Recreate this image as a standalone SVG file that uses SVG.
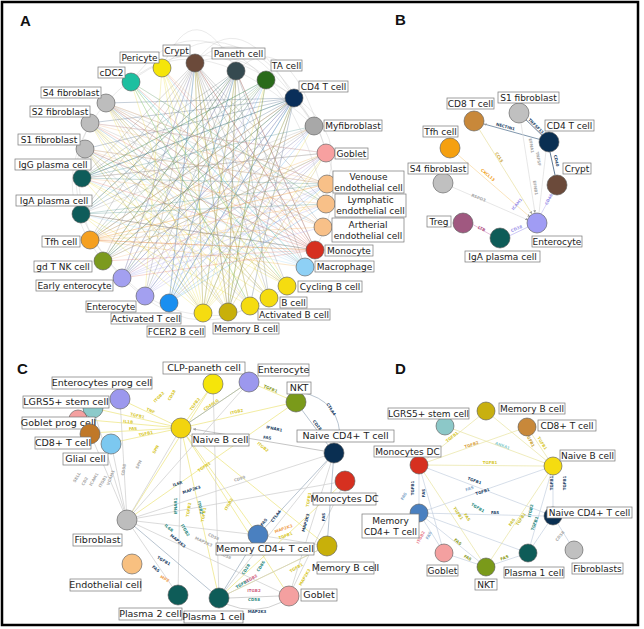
<svg xmlns="http://www.w3.org/2000/svg" width="644" height="629" viewBox="0 0 644 629">
<defs>
<style>
.n circle{stroke:#555;stroke-width:.6}
.lb{fill:#fff;stroke:#777;stroke-width:.7}
.t{font-family:"DejaVu Sans",Verdana,sans-serif;font-size:9px;fill:#222;text-anchor:middle}
.tc{font-family:"DejaVu Sans",Verdana,sans-serif;font-size:9.5px;fill:#222;text-anchor:middle}
.pl{font-family:"Liberation Sans",Arial,sans-serif;font-size:15px;font-weight:bold;fill:#111}
.ea{fill:none;stroke-width:.5;opacity:.5}
.eb{fill:none;stroke-width:.7}
.g{font-family:"DejaVu Sans",sans-serif;font-size:4px;font-weight:bold;text-anchor:middle}
</style>
<marker id="ar" viewBox="0 0 6 6" refX="6" refY="3" markerWidth="4" markerHeight="4" orient="auto"><path d="M0 0L6 3L0 6z" fill="#999"/></marker>
</defs>
<rect width="644" height="629" fill="#fff"/>
<rect x="2" y="2" width="636" height="623" fill="none" stroke="#000" stroke-width="2.5"/>
<text class="pl" x="20" y="26">A</text>
<text class="pl" x="395" y="25">B</text>
<text class="pl" x="17" y="374">C</text>
<text class="pl" x="395" y="374">D</text>

<g id="connectors">
<!-- Panel A hairball -->
<g id="edges-A">
<path class="ea" stroke="#666" d="M195 63L122 278M195 63L145 296M195 63L169 303M195 63L203 313M195 63L228 312M195 63L250 306M195 63L269 298M195 63L287 286M195 63L305 267M195 63L315 250M195 63L323 227M195 63L90 240M195 63L103 261M195 63L81 214M195 63L82 178M195 63L326 204"/>
<path class="ea" stroke="#1c3f66" d="M294 98L106 103M294 98L90 123M294 98L85 149M294 98L82 178M294 98L81 214M294 98L90 240M294 98L103 261M294 98L122 278M294 98L145 296M294 98L169 303M294 98L203 313M294 98L228 312M294 98L250 306"/>
<path class="ea" stroke="#4a5a60" d="M236 71L81 214M236 71L90 240M236 71L103 261M236 71L122 278M236 71L145 296M236 71L169 303M236 71L203 313M236 71L228 312M236 71L269 298M236 71L305 267M236 71L315 250M236 71L82 178"/>
<path class="ea" stroke="#e8d620" d="M203 313L195 63M203 313L162 68M203 313L131 82M203 313L106 103M203 313L90 123M203 313L85 149M203 313L82 178M203 313L81 214M203 313L314 126M203 313L294 98M203 313L266 80M203 313L236 71M203 313L326 153M203 313L327 184M287 286L106 103M287 286L85 149M287 286L82 178M287 286L131 82M287 286L162 68M250 306L90 123M250 306L81 214M250 306L195 63M269 298L162 68M269 298L90 123M269 298L82 178M269 298L106 103M250 306L131 82M287 286L90 123M162 68L228 312M162 68L145 296"/>
<path class="ea" stroke="#b8a020" d="M228 312L195 63M228 312L294 98M228 312L266 80M228 312L236 71M228 312L106 103M228 312L85 149M228 312L326 153"/>
<path class="ea" stroke="#e06050" d="M315 250L106 103M315 250L90 123M315 250L85 149M315 250L82 178M315 250L81 214M315 250L90 240M315 250L103 261M315 250L122 278M315 250L195 63M315 250L162 68M315 250L131 82M315 250L236 71"/>
<path class="ea" stroke="#9a96e8" d="M122 278L195 63M122 278L294 98M122 278L266 80M122 278L236 71M122 278L314 126M122 278L326 153M122 278L327 184M122 278L326 204M122 278L323 227M145 296L294 98M145 296L326 153M145 296L266 80M145 296L314 126M145 296L327 184"/>
<path class="ea" stroke="#3a9ae8" d="M169 303L195 63M169 303L236 71M169 303L266 80M169 303L294 98M169 303L314 126M169 303L326 153M169 303L327 184M169 303L326 204"/>
<path class="ea" stroke="#f0a030" d="M90 240L314 126M90 240L326 153M90 240L327 184M90 240L326 204M90 240L323 227M90 240L315 250M90 240L305 267M90 240L294 98"/>
<path class="ea" stroke="#999" d="M106 103L315 250M106 103L323 227M106 103L326 204M106 103L327 184M106 103L305 267M106 103L287 286M106 103L269 298M106 103L250 306M90 123L326 153M90 123L323 227M90 123L305 267M90 123L269 298M90 123L228 312M85 149L327 184M85 149L315 250M85 149L287 286M85 149L250 306M85 149L203 313M314 126L103 261M314 126L81 214M314 126L122 278M314 126L90 240"/>
<path class="ea" stroke="#2a7a78" d="M82 178L326 153M82 178L314 126M82 178L294 98M82 178L266 80M82 178L327 184M81 214L326 204M81 214L327 184M81 214L266 80M81 214L236 71M81 214L315 250"/>
<path class="ea" stroke="#8ecff2" d="M305 267L106 103M305 267L85 149M305 267L131 82M305 267L162 68M305 267L81 214M305 267L90 123M305 267L82 178"/>
<path class="ea" stroke="#f2b070" d="M327 184L106 103M327 184L90 123M327 184L85 149M327 184L90 240M326 204L103 261M326 204L82 178M326 204L131 82M323 227L85 149M323 227L162 68M323 227L106 103"/>
<path class="ea" stroke="#4a8a3a" d="M266 80L90 240M266 80L103 261M266 80L122 278M266 80L82 178M266 80L228 312M103 261L326 153M103 261L294 98M103 261L236 71"/>
<path class="ea" stroke="#f0a0a0" d="M326 153L90 123M326 153L82 178M326 153L122 278M326 153L169 303M326 153L103 261"/>
<path class="ea" stroke="#30b8a0" d="M131 82L287 286M131 82L305 267M131 82L326 204M131 82L250 306"/>
<path class="ea" stroke="#aaa" d="M162 68Q195 -10 236 71M131 82Q190 0 266 80M106 103Q190 10 294 98M195 63Q240 0 294 98M195 63Q250 10 314 126M162 68Q230 -5 314 126M236 71Q290 20 326 153M106 103Q40 180 103 261M90 123Q50 200 122 278M122 278Q190 345 250 306M145 296Q220 340 287 286M294 98Q360 170 315 250M266 80Q350 120 327 184M85 149Q60 230 145 296M131 82Q200 20 314 126M195 63Q280 30 326 204"/>
</g>
<!-- Panel B -->
<g id="edges-B">
<path class="eb" stroke="#1c3f66" d="M519 113L549 142"/>
<path class="eb" stroke="#4a6a8a" d="M549 142L484 124" marker-end="url(#ar)"/>
<path class="eb" stroke="#1c3f66" d="M550 152L555 175"/>
<path class="eb" stroke="#e8e0a0" d="M474 121L532 214" marker-end="url(#ar)"/>
<path class="eb" stroke="#f8d8a0" d="M450 148L530 217" marker-end="url(#ar)"/>
<path class="eb" stroke="#ddd" d="M443 183L528 220" marker-end="url(#ar)"/>
<path class="eb" stroke="#ddd" d="M521 123L535 213" marker-end="url(#ar)"/>
<path class="eb" stroke="#ddd" d="M546 151L539 213"/>
<path class="eb" stroke="#c8c4f4" d="M557 185L541 214"/>
<path class="eb" stroke="#b8b0f0" d="M509 236L528 227"/>
<path class="eb" stroke="#d8a0c8" d="M472 224L491 235"/>
<text class="g" fill="#1c3f66" transform="translate(535 127) rotate(45)">TNFSF13</text>
<text class="g" fill="#1c3f66" transform="translate(505 128) rotate(15)">NECTIN1</text>
<text class="g" fill="#1c3f66" transform="translate(555 161) rotate(78)">CD40</text>
<text class="g" fill="#c8a030" transform="translate(498 158) rotate(58)">CCL5</text>
<text class="g" fill="#f0a020" transform="translate(487 176) rotate(40)">CXCL13</text>
<text class="g" fill="#aaa" transform="translate(478 199) rotate(22)">RSPO3</text>
<text class="g" fill="#aaa" transform="translate(530 146) rotate(80)">EFNA1</text>
<text class="g" fill="#aaa" transform="translate(537 159) rotate(80)">TNFSF</text>
<text class="g" fill="#aaa" transform="translate(534 188) rotate(82)">EFNB1</text>
<text class="g" fill="#9a90e8" transform="translate(550 200) rotate(-62)">CD46</text>
<text class="g" fill="#9a90e8" transform="translate(518 205) rotate(-50)">ICAM1</text>
<text class="g" fill="#9a90e8" transform="translate(517 230) rotate(-22)">CD38</text>
<text class="g" fill="#b05080" transform="translate(481 230) rotate(28)">LTB</text>
</g>
<!-- Panel C -->
<g id="edges-C">
<path class="eb" stroke="#ece47a" stroke-width=".6" d="M181 428L120 399M181 428L93 408M181 428L78 419M181 428L90 433M181 428L111 443M181 428L213 384M181 428L249 382M181 428L296 402M181 428L219 598M181 428L289 596M181 428L258 535M181 428L327 546M213 384L127 520M249 382L296 402M296 402L127 520M219 598L327 546M345 481L219 598"/>
<path class="eb" stroke="#ccc" stroke-width=".6" d="M334 453L127 520M249 382L127 520M213 384L219 598M127 520L178 595M127 520L289 596M127 520L258 535M334 453L219 598M334 453L289 596M345 481L127 520M327 546L219 598M181 428L127 520M111 443L127 520M93 408L127 520M90 433L127 520M120 399L127 520M181 428L178 595M345 481L289 596M258 535L327 546"/>
<path class="eb" stroke="#aaa" stroke-width=".6" d="M324 451L193 429" marker-end="url(#ar)"/>
<path class="eb" stroke="#9ab" stroke-width=".6" d="M296 402L334 453M300 392Q342 400 340 443M334 453L258 535M334 453L327 546M127 520L219 598M219 598L258 535M249 382L181 428"/>
<path class="eb" stroke="#bbb" stroke-width=".6" d="M229 598L279 596M226 604Q255 616 282 602"/>
<text class="g" fill="#d8c830" transform="translate(150 412) rotate(25)">TNF</text>
<text class="g" fill="#d8c830" transform="translate(137 417) rotate(13)">TGFB1</text>
<text class="g" fill="#d8c830" transform="translate(128 423) rotate(5)">IL1B</text>
<text class="g" fill="#d8c830" transform="translate(133 430) rotate(-3)">FAS</text>
<text class="g" fill="#d8c830" transform="translate(146 435) rotate(-12)">TGFB1</text>
<text class="g" fill="#d8c830" transform="translate(196 405) rotate(-54)">TGFB2</text>
<text class="g" fill="#d8c830" transform="translate(212 406) rotate(-34)">CD40LG</text>
<text class="g" fill="#d8c830" transform="translate(237 413) rotate(-13)">ITGB2</text>
<text class="g" fill="#d8c830" transform="translate(160 398) rotate(-45)">ITGB2</text>
<text class="g" fill="#d8c830" transform="translate(173 396) rotate(-60)">CD58</text>
<text class="g" fill="#d8c830" transform="translate(157 450) rotate(-60)">SPN</text>
<text class="g" fill="#8a9a20" transform="translate(270 390) rotate(23)">TGFB1</text>
<text class="g" fill="#1c3f66" transform="translate(316 426) rotate(53)">CD28</text>
<text class="g" fill="#1c3f66" transform="translate(330 410) rotate(58)">CTLA4</text>
<text class="g" fill="#1c3f66" transform="translate(274 430) rotate(12)">IFNAR1</text>
<text class="g" fill="#1c3f66" transform="translate(267 439) rotate(8)">FAS</text>
<text class="g" fill="#d8c830" transform="translate(262 448) rotate(40)">ITGB2</text>
<text class="g" fill="#1c3f66" transform="translate(178 485) rotate(-18)">IL6R</text>
<text class="g" fill="#1c3f66" transform="translate(192 491) rotate(-18)">MAP2K3</text>
<text class="g" fill="#d8c830" transform="translate(205 468) rotate(-35)">TGFB1</text>
<text class="g" fill="#d8c830" transform="translate(190 510) rotate(-80)">TGFB2</text>
<text class="g" fill="#d8c830" transform="translate(205 515) rotate(-80)">TGFB1</text>
<text class="g" fill="#d8c830" transform="translate(230 505) rotate(-60)">ITGB2</text>
<text class="g" fill="#2a8a80" transform="translate(177 506) rotate(-90)">IFNAR1</text>
<text class="g" fill="#2a8a80" transform="translate(199 508) rotate(77)">ITGB2</text>
<text class="g" fill="#2a8a80" transform="translate(168 529) rotate(40)">IL6R</text>
<text class="g" fill="#2a8a80" transform="translate(184 531) rotate(60)">ITGB2</text>
<text class="g" fill="#1c3f66" transform="translate(177 542) rotate(40)">MAP2K3</text>
<text class="g" fill="#1c3f66" transform="translate(163 562) rotate(30)">TGFB1</text>
<text class="g" fill="#1c3f66" transform="translate(155 570) rotate(40)">FAS</text>
<text class="g" fill="#f0a050" transform="translate(164 580) rotate(30)">MPZ</text>
<text class="g" fill="#aaa" transform="translate(213 538) rotate(25)">CD58</text>
<text class="g" fill="#aaa" transform="translate(203 543) rotate(25)">MAP2K3</text>
<text class="g" fill="#aaa" transform="translate(225 557) rotate(25)">CD58</text>
<text class="g" fill="#d06080" transform="translate(254 592)">ITGB2</text>
<text class="g" fill="#2a8a80" transform="translate(254 601)">CD58</text>
<text class="g" fill="#1c3f66" transform="translate(257 613)">MAP2K3</text>
<text class="g" fill="#2a8a80" transform="translate(262 567) rotate(-58)">CD86</text>
<text class="g" fill="#2a8a80" transform="translate(247 570) rotate(-58)">CD28</text>
<text class="g" fill="#2a8a80" transform="translate(243 585) rotate(-30)">TGFB1</text>
<text class="g" fill="#d06080" transform="translate(252 580) rotate(-30)">ITGB2</text>
<text class="g" fill="#1c3f66" transform="translate(265 523) rotate(-52)">FAS</text>
<text class="g" fill="#1c3f66" transform="translate(277 517) rotate(-52)">CTLA4</text>
<text class="g" fill="#f0a050" transform="translate(284 530) rotate(-20)">MAP2K3</text>
<text class="g" fill="#d8c830" transform="translate(286 537) rotate(-20)">TGFB1</text>
<text class="g" fill="#1c3f66" transform="translate(325 517) rotate(-90)">FAS</text>
<text class="g" fill="#1c3f66" transform="translate(307 523) rotate(-75)">MAP2K3</text>
<text class="g" fill="#d8c830" transform="translate(297 569) rotate(-30)">TGFB1</text>
<text class="g" fill="#d8c830" transform="translate(306 578) rotate(-60)">MAP2K3</text>
<text class="g" fill="#d8c830" transform="translate(310 500) rotate(-80)">TGFB1</text>
<text class="g" fill="#aaa" transform="translate(78 478) rotate(-60)">SELL</text>
<text class="g" fill="#aaa" transform="translate(86 482) rotate(-60)">CD2</text>
<text class="g" fill="#aaa" transform="translate(95 480) rotate(-60)">ICAM1</text>
<text class="g" fill="#aaa" transform="translate(104 482) rotate(-60)">ITGB1</text>
<text class="g" fill="#aaa" transform="translate(112 478) rotate(-70)">VCAM1</text>
<text class="g" fill="#aaa" transform="translate(125 470) rotate(-80)">CD58</text>
<text class="g" fill="#aaa" transform="translate(140 465) rotate(-65)">SPN</text>
<text class="g" fill="#aaa" transform="translate(240 480) rotate(-18)">CD99</text>
</g>
<!-- Panel D -->
<g id="edges-D">
<path class="eb" stroke="#e8e4a0" stroke-width=".6" d="M419 465L544 466M486 411L419 465M527 427L419 465M527 427L553 466M486 411L553 466M445 426L553 466M419 465L486 567M553 466L486 567"/>
<path class="eb" stroke="#c4d0e0" stroke-width=".6" d="M419 465L419 513M419 465L553 516M419 513L553 466M419 513L544 516M553 466L553 516M419 513L444 553M419 513L486 567M444 553L486 567M486 567L528 553M528 553L553 516M553 466L528 553M574 550L553 516M419 465L444 553M419 513L528 553"/>
<text class="g" fill="#d8c830" transform="translate(453 438) rotate(-39)">TGFB1</text>
<text class="g" fill="#d8a040" transform="translate(472 446) rotate(-19)">TGFB2</text>
<text class="g" fill="#8cc" transform="translate(502 447) rotate(20)">ANXA1</text>
<text class="g" fill="#c8a030" transform="translate(529 441) rotate(62)">TGFB1</text>
<text class="g" fill="#d8c830" transform="translate(541 444) rotate(58)">TGFB1</text>
<text class="g" fill="#d8c830" transform="translate(490 464)">TGFB1</text>
<text class="g" fill="#1c3f66" transform="translate(474 482) rotate(20)">TGFB1</text>
<text class="g" fill="#1c3f66" transform="translate(414 488) rotate(-90)">TGFB1</text>
<text class="g" fill="#1c3f66" transform="translate(425 493) rotate(-90)">FAS</text>
<text class="g" fill="#8ac" transform="translate(405 497) rotate(-60)">FAS</text>
<text class="g" fill="#8ac" transform="translate(470 490) rotate(-19)">FAS</text>
<text class="g" fill="#1c3f66" transform="translate(483 493) rotate(-19)">TGFB1</text>
<text class="g" fill="#2a8a80" transform="translate(477 509) rotate(30)">TGFB1</text>
<text class="g" fill="#1c3f66" transform="translate(495 514)">FAS</text>
<text class="g" fill="#1c3f66" transform="translate(553 483) rotate(-90)">TGFB1</text>
<text class="g" fill="#1c3f66" transform="translate(566 483) rotate(-90)">TGFB1</text>
<text class="g" fill="#2a8a80" transform="translate(536 524) rotate(-70)">TGFB1</text>
<text class="g" fill="#2a8a80" transform="translate(532 511) rotate(-80)">ITGB2</text>
<text class="g" fill="#c8c030" transform="translate(513 523) rotate(-56)">FAS</text>
<text class="g" fill="#c8c030" transform="translate(522 520) rotate(-56)">TGFB1</text>
<text class="g" fill="#e88090" transform="translate(422 538) rotate(-62)">ITGB2</text>
<text class="g" fill="#8ac" transform="translate(430 536) rotate(-62)">FAS</text>
<text class="g" fill="#8a9a20" transform="translate(457 543) rotate(40)">FAS</text>
<text class="g" fill="#c8c030" transform="translate(457 514) rotate(57)">TGFB1</text>
<text class="g" fill="#c8c030" transform="translate(466 518) rotate(57)">FAS</text>
<text class="g" fill="#8a9a20" transform="translate(467 559) rotate(30)">FAS</text>
<text class="g" fill="#8a9a20" transform="translate(505 559) rotate(-20)">FAS</text>
<text class="g" fill="#aaa" transform="translate(561 537) rotate(-50)">CD58</text>
</g>
</g>

<!-- Panel A nodes -->
<g class="n" id="A-crypt"><circle cx="195" cy="63" r="9" fill="#6b4a3a"/><rect class="lb" x="163" y="45" width="27" height="11"/><text class="t" x="176.5" y="53.5">Crypt</text></g>
<g class="n" id="A-pericyte"><circle cx="162" cy="68" r="9" fill="#f5e50a"/><rect class="lb" x="120" y="52" width="39" height="11"/><text class="t" x="139.5" y="60.5">Pericyte</text></g>
<g class="n" id="A-cdc2"><circle cx="131" cy="82" r="9" fill="#1dbfa0"/><rect class="lb" x="98" y="67" width="27" height="11"/><text class="t" x="111.5" y="75.5">cDC2</text></g>
<g class="n" id="A-s4"><circle cx="106" cy="103" r="9" fill="#bdbdbd"/><rect class="lb" x="41" y="87" width="60" height="11"/><text class="t" x="71" y="95.5">S4 fibroblast</text></g>
<g class="n" id="A-s2"><circle cx="90" cy="123" r="9" fill="#bdbdbd"/><rect class="lb" x="30" y="106" width="60" height="11"/><text class="t" x="60" y="114.5">S2 fibroblast</text></g>
<g class="n" id="A-s1"><circle cx="85" cy="149" r="9" fill="#bdbdbd"/><rect class="lb" x="18" y="134" width="62" height="11"/><text class="t" x="49" y="142.5">S1 fibroblast</text></g>
<g class="n" id="A-igg"><circle cx="82" cy="178" r="9" fill="#0e5c5a"/><rect class="lb" x="15" y="159" width="76" height="11"/><text class="t" x="53" y="167.5">IgG plasma cell</text></g>
<g class="n" id="A-iga"><circle cx="81" cy="214" r="9" fill="#0e5c5a"/><rect class="lb" x="16" y="195" width="76" height="11"/><text class="t" x="54" y="203.5">IgA plasma cell</text></g>
<g class="n" id="A-tfh"><circle cx="90" cy="240" r="9" fill="#f5a020"/><rect class="lb" x="42" y="236" width="38" height="11"/><text class="t" x="61" y="244.5">Tfh cell</text></g>
<g class="n" id="A-gdtnk"><circle cx="103" cy="261" r="9" fill="#7c9a1e"/><rect class="lb" x="34" y="261" width="58" height="11"/><text class="t" x="63" y="269.5">gd T NK cell</text></g>
<g class="n" id="A-earlyent"><circle cx="122" cy="278" r="9" fill="#a3a0f0"/><rect class="lb" x="36" y="280" width="77" height="11"/><text class="t" x="74.5" y="288.5">Early enterocyte</text></g>
<g class="n" id="A-enterocyte"><circle cx="145" cy="296" r="9" fill="#a3a0f0"/><rect class="lb" x="86" y="301" width="50" height="11"/><text class="t" x="111" y="309.5">Enterocyte</text></g>
<g class="n" id="A-actt"><circle cx="169" cy="303" r="9" fill="#1a8ff0"/><rect class="lb" x="111" y="313" width="70" height="11"/><text class="t" x="146" y="321.5">Activated T cell</text></g>
<g class="n" id="A-fcer2"><circle cx="203" cy="313" r="9" fill="#f5dc10"/><rect class="lb" x="147" y="326" width="58" height="11"/><text class="t" x="176" y="334.5">FCER2 B cell</text></g>
<g class="n" id="A-memb"><circle cx="228" cy="312" r="9" fill="#c8b00a"/><rect class="lb" x="213" y="323" width="66" height="11"/><text class="t" x="246" y="331.5">Memory B cell</text></g>
<g class="n" id="A-actb"><circle cx="250" cy="306" r="9" fill="#f5dc10"/><rect class="lb" x="258" y="309" width="72" height="11"/><text class="t" x="294" y="317.5">Activated B cell</text></g>
<g class="n" id="A-bcell"><circle cx="269" cy="298" r="9" fill="#f5dc10"/><rect class="lb" x="280" y="297" width="27" height="11"/><text class="t" x="293.5" y="305.5">B cell</text></g>
<g class="n" id="A-cycb"><circle cx="287" cy="286" r="9" fill="#f5dc10"/><rect class="lb" x="298" y="281" width="64" height="11"/><text class="t" x="330" y="289.5">Cycling B cell</text></g>
<g class="n" id="A-macro"><circle cx="305" cy="267" r="9" fill="#8ed0f5"/><rect class="lb" x="315" y="261" width="59" height="11"/><text class="t" x="344.5" y="269.5">Macrophage</text></g>
<g class="n" id="A-mono"><circle cx="315" cy="250" r="9" fill="#d63020"/><rect class="lb" x="325" y="245" width="48" height="11"/><text class="t" x="349" y="253.5">Monocyte</text></g>
<g class="n" id="A-art"><circle cx="323" cy="227" r="9" fill="#f8c088"/><rect class="lb" x="332" y="218" width="72" height="24"/><text class="t" x="368" y="227.5">Artherial</text><text class="t" x="368" y="239">endothelial cell</text></g>
<g class="n" id="A-lym"><circle cx="326" cy="204" r="9" fill="#f8c088"/><rect class="lb" x="335" y="194" width="71" height="23"/><text class="t" x="370.5" y="203">Lymphatic</text><text class="t" x="370.5" y="214">endothelial cell</text></g>
<g class="n" id="A-ven"><circle cx="327" cy="184" r="9" fill="#f8c088"/><rect class="lb" x="333" y="171" width="71" height="22"/><text class="t" x="368.5" y="180">Venouse</text><text class="t" x="368.5" y="190.5">endothelial cell</text></g>
<g class="n" id="A-goblet"><circle cx="326" cy="153" r="9" fill="#f7a0a0"/><rect class="lb" x="335" y="148" width="33" height="11"/><text class="t" x="351.5" y="156.5">Goblet</text></g>
<g class="n" id="A-myf"><circle cx="314" cy="126" r="9" fill="#a8a8a8"/><rect class="lb" x="324" y="120" width="58" height="11"/><text class="t" x="353" y="128.5">Myfibroblast</text></g>
<g class="n" id="A-cd4t"><circle cx="294" cy="98" r="9" fill="#0a2f5a"/><rect class="lb" x="299" y="81" width="49" height="11"/><text class="t" x="323.5" y="89.5">CD4 T cell</text></g>
<g class="n" id="A-ta"><circle cx="266" cy="80" r="9" fill="#2a6a1a"/><rect class="lb" x="271" y="60" width="31" height="11"/><text class="t" x="286.5" y="68.5">TA cell</text></g>
<g class="n" id="A-paneth"><circle cx="236" cy="71" r="9" fill="#354a50"/><rect class="lb" x="212" y="48" width="53" height="11"/><text class="t" x="238.5" y="56.5">Paneth cell</text></g>

<!-- Panel B nodes -->
<g class="n" id="B-s1"><circle cx="519" cy="113" r="10" fill="#c0c0c0"/><rect class="lb" x="498" y="92" width="61" height="11"/><text class="t" x="528.5" y="100.5">S1 fibroblast</text></g>
<g class="n" id="B-cd8"><circle cx="474" cy="121" r="10" fill="#c8883a"/><rect class="lb" x="447" y="98" width="47" height="11"/><text class="t" x="470.5" y="106.5">CD8 T cell</text></g>
<g class="n" id="B-cd4"><circle cx="549" cy="142" r="10" fill="#0a2f52"/><rect class="lb" x="545" y="120" width="49" height="11"/><text class="t" x="569.5" y="128.5">CD4 T cell</text></g>
<g class="n" id="B-tfh"><circle cx="450" cy="148" r="10" fill="#f5a010"/><rect class="lb" x="423" y="126" width="35" height="11"/><text class="t" x="440.5" y="134.5">Tfh cell</text></g>
<g class="n" id="B-crypt"><circle cx="557" cy="185" r="10" fill="#6b4a3a"/><rect class="lb" x="563" y="163" width="28" height="11"/><text class="t" x="577" y="171.5">Crypt</text></g>
<g class="n" id="B-s4"><circle cx="443" cy="183" r="10" fill="#c0c0c0"/><rect class="lb" x="408" y="163" width="60" height="11"/><text class="t" x="438" y="171.5">S4 fibroblast</text></g>
<g class="n" id="B-treg"><circle cx="463" cy="223" r="10" fill="#a05880"/><rect class="lb" x="427" y="216" width="24" height="11"/><text class="t" x="439" y="224.5">Treg</text></g>
<g class="n" id="B-ent"><circle cx="537" cy="223" r="10" fill="#a09cf4"/><rect class="lb" x="532" y="236" width="50" height="11"/><text class="t" x="557" y="244.5">Enterocyte</text></g>
<g class="n" id="B-iga"><circle cx="500" cy="238" r="10" fill="#0e5c58"/><rect class="lb" x="465" y="251" width="75" height="11"/><text class="t" x="502.5" y="259.5">IgA plasma cell</text></g>

<!-- Panel C nodes -->
<g class="n" id="C-clp"><circle cx="213" cy="384" r="10" fill="#f5e50a"/><rect class="lb" x="163" y="362" width="82" height="12"/><text class="tc" x="204" y="371">CLP-paneth cell</text></g>
<g class="n" id="C-entprog"><circle cx="120" cy="399" r="10" fill="#9c98ee"/><rect class="lb" x="52" y="377" width="100" height="12"/><text class="tc" x="102" y="386">Enterocytes prog cell</text></g>
<g class="n" id="C-lgr5"><circle cx="93" cy="408" r="10" fill="#8ccaca"/><rect class="lb" x="23" y="396" width="86" height="12"/><text class="tc" x="66" y="405">LGRS5+ stem cell</text></g>
<g class="n" id="C-gobprog"><circle cx="78" cy="419" r="9" fill="#f4a0a0"/><rect class="lb" x="22" y="417" width="73" height="12"/><text class="tc" x="58.5" y="426">Goblet prog cell</text></g>
<g class="n" id="C-cd8"><circle cx="90" cy="434" r="10" fill="#c07828"/><rect class="lb" x="35" y="437" width="56" height="12"/><text class="tc" x="63" y="446">CD8+ T cell</text></g>
<g class="n" id="C-glial"><circle cx="111" cy="444" r="10" fill="#7cc8f0"/><rect class="lb" x="63" y="453" width="45" height="12"/><text class="tc" x="85.5" y="462">Glial cell</text></g>
<g class="n" id="C-naiveb"><circle cx="181" cy="428" r="10" fill="#f2d40e"/><rect class="lb" x="192" y="434" width="57" height="12"/><text class="tc" x="220.5" y="443">Naive B cell</text></g>
<g class="n" id="C-ent"><circle cx="249" cy="382" r="10" fill="#9c98ee"/><rect class="lb" x="258" y="364" width="51" height="12"/><text class="tc" x="283.5" y="373">Enterocyte</text></g>
<g class="n" id="C-nkt"><circle cx="296" cy="402" r="10" fill="#7a9a1a"/><rect class="lb" x="287" y="382" width="24" height="12"/><text class="tc" x="299" y="391">NKT</text></g>
<g class="n" id="C-naivecd4"><circle cx="334" cy="453" r="10" fill="#0a2f52"/><rect class="lb" x="297" y="430" width="97" height="12"/><text class="tc" x="345.5" y="439">Naive CD4+ T cell</text></g>
<g class="n" id="C-monodc"><circle cx="345" cy="481" r="10" fill="#d63020"/><rect class="lb" x="313" y="493" width="63" height="12"/><text class="tc" x="344.5" y="502">Monocytes DC</text></g>
<g class="n" id="C-memb"><circle cx="327" cy="546" r="10" fill="#c8b00a"/><rect class="lb" x="317" y="562" width="57" height="12"/><text class="tc" x="345.5" y="571">Memory B cell</text></g>
<g class="n" id="C-memcd4"><circle cx="258" cy="535" r="10" fill="#4a80c0"/><rect class="lb" x="216" y="543" width="98" height="12"/><text class="tc" x="265" y="552">Memory CD4+ T cell</text></g>
<g class="n" id="C-fib"><circle cx="127" cy="520" r="10" fill="#bdbdbd"/><rect class="lb" x="73" y="534" width="49" height="12"/><text class="tc" x="97.5" y="543">Fibroblast</text></g>
<g class="n" id="C-endo"><circle cx="132" cy="564" r="10" fill="#f8c080"/><rect class="lb" x="70" y="579" width="71" height="12"/><text class="tc" x="105.5" y="588">Endothelial cell</text></g>
<g class="n" id="C-pl2"><circle cx="178" cy="595" r="10" fill="#0e5c58"/><rect class="lb" x="119" y="608" width="63" height="12"/><text class="tc" x="150.5" y="617">Plasma 2 cell</text></g>
<g class="n" id="C-pl1"><circle cx="219" cy="598" r="10" fill="#0e5c58"/><rect class="lb" x="184" y="611" width="59" height="12"/><text class="tc" x="213.5" y="620">Plasma 1 cell</text></g>
<g class="n" id="C-goblet"><circle cx="289" cy="596" r="10" fill="#f4a0a0"/><rect class="lb" x="301" y="589" width="36" height="12"/><text class="tc" x="319" y="598">Goblet</text></g>

<!-- Panel D nodes -->
<g class="n" id="D-memb"><circle cx="486" cy="411" r="9" fill="#c8b010"/><rect class="lb" x="499" y="403" width="66" height="11"/><text class="t" x="532" y="411.5">Memory B cell</text></g>
<g class="n" id="D-lgr5"><circle cx="445" cy="426" r="9" fill="#8cc8c8"/><rect class="lb" x="388" y="408" width="81" height="11"/><text class="t" x="428.5" y="416.5">LGRS5+ stem cell</text></g>
<g class="n" id="D-cd8"><circle cx="527" cy="427" r="9" fill="#c8883a"/><rect class="lb" x="538" y="420" width="58" height="11"/><text class="t" x="567" y="428.5">CD8+ T cell</text></g>
<g class="n" id="D-monodc"><circle cx="419" cy="465" r="9" fill="#d63020"/><rect class="lb" x="374" y="446" width="67" height="11"/><text class="t" x="407.5" y="454.5">Monocytes DC</text></g>
<g class="n" id="D-naiveb"><circle cx="553" cy="466" r="9" fill="#f5dc10"/><rect class="lb" x="560" y="450" width="55" height="11"/><text class="t" x="587.5" y="458.5">Naive B cell</text></g>
<g class="n" id="D-memcd4"><circle cx="419" cy="513" r="9" fill="#4a80c0"/><rect class="lb" x="362" y="514" width="57" height="24"/><text class="t" x="390.5" y="523.5">Memory</text><text class="t" x="390.5" y="535">CD4+ T cell</text></g>
<g class="n" id="D-naivecd4"><circle cx="553" cy="516" r="9" fill="#0a2f52"/><rect class="lb" x="547" y="507" width="85" height="11"/><text class="t" x="589.5" y="515.5">Naive CD4+ T cell</text></g>
<g class="n" id="D-goblet"><circle cx="444" cy="553" r="9" fill="#f4a0a0"/><rect class="lb" x="427" y="565" width="31" height="11"/><text class="t" x="442.5" y="573.5">Goblet</text></g>
<g class="n" id="D-nkt"><circle cx="486" cy="567" r="9" fill="#7a9a1a"/><rect class="lb" x="475" y="579" width="22" height="11"/><text class="t" x="486" y="587.5">NKT</text></g>
<g class="n" id="D-pl1"><circle cx="528" cy="553" r="9" fill="#0e5c58"/><rect class="lb" x="504" y="567" width="60" height="11"/><text class="t" x="534" y="575.5">Plasma 1 cell</text></g>
<g class="n" id="D-fib"><circle cx="574" cy="550" r="9" fill="#c0c0c0"/><rect class="lb" x="572" y="563" width="51" height="11"/><text class="t" x="597.5" y="571.5">Fibroblasts</text></g>
</svg>
